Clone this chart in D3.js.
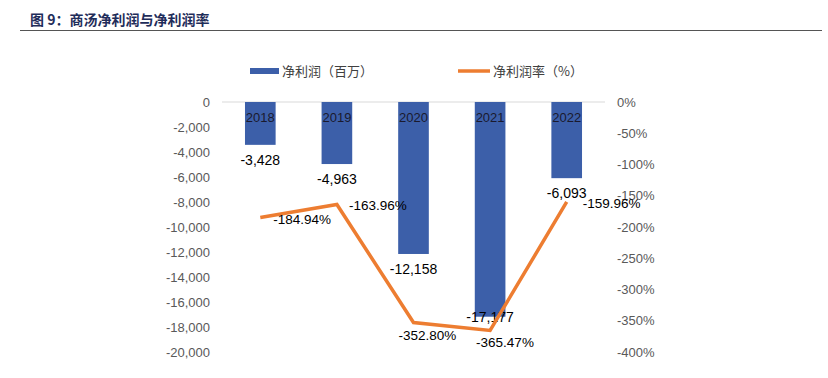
<!DOCTYPE html>
<html lang="zh">
<head>
<meta charset="UTF-8">
<title>商汤净利润与净利润率</title>
<script src="https://d3js.org/d3.v7.min.js"></script>
<style>
    body { margin: 0; background: #fff; font-family: "Liberation Sans", Arial, "Noto Sans CJK SC", sans-serif; }
    .tick text { fill: #595959; font-size: 13px; }
</style>
</head>
<body>
<div id="chart"></div>
<script>
// data
const years = ["2018", "2019", "2020", "2021", "2022"];
const netProfit = [-3428, -4963, -12158, -17177, -6093];
const netMargin = [-184.94, -163.96, -352.80, -365.47, -159.96];
const leftTicks = [0, -2000, -4000, -6000, -8000, -10000, -12000, -14000, -16000, -18000, -20000];
const rightTicks = [0, -50, -100, -150, -200, -250, -300, -350, -400];

const width = 828, height = 378;
const x0 = 222, x1 = 605, yTop = 102, yBot = 352;

const svg = d3.select("#chart").append("svg")
    .attr("width", width).attr("height", height);

// title
svg.append("text")
    .attr("x", 30).attr("y", 25)
    .attr("font-size", 14).attr("font-weight", "bold")
    .attr("fill", "#1f2d5a")
    .attr("font-family", "'Noto Sans CJK SC', sans-serif")
    .text("图 9：商汤净利润与净利润率");
svg.append("line")
    .attr("x1", 20).attr("x2", 822).attr("y1", 30.5).attr("y2", 30.5)
    .attr("stroke", "#555").attr("stroke-width", 1.2);

const x = d3.scaleBand().domain(years).range([x0, x1]).paddingInner(0.6).paddingOuter(0.3);
const yL = d3.scaleLinear().domain([0, -20000]).range([yTop, yBot]);
const yR = d3.scaleLinear().domain([0, -400]).range([yTop, yBot]);

// axes (plain hyphen instead of unicode minus)
const fmt = v => d3.format(",")(v).replace("−", "-");
const gl = svg.append("g").attr("transform", `translate(${x0 - 8},0)`)
    .call(d3.axisLeft(yL).tickValues(leftTicks).tickSize(0).tickPadding(4).tickFormat(fmt));
gl.select(".domain").remove();

const gr = svg.append("g").attr("transform", `translate(${x1 + 8},0)`)
    .call(d3.axisRight(yR).tickValues(rightTicks).tickSize(0).tickPadding(4).tickFormat(d => d + "%"));
gr.select(".domain").remove();

// zero line
svg.append("line")
    .attr("x1", x0).attr("x2", x1).attr("y1", yL(0)).attr("y2", yL(0))
    .attr("stroke", "#d9d9d9").attr("stroke-width", 1);

// bars
const barColor = "#3c5fa9";
svg.selectAll("rect.bar").data(years).enter().append("rect")
    .attr("class", "bar")
    .attr("x", d => x(d))
    .attr("width", x.bandwidth())
    .attr("y", yL(0))
    .attr("height", (d, i) => yL(netProfit[i]) - yL(0))
    .attr("fill", barColor);

// year labels inside bars
svg.selectAll("text.yr").data(years).enter().append("text")
    .attr("x", d => x(d) + x.bandwidth() / 2)
    .attr("y", yL(0) + 20)
    .attr("text-anchor", "middle")
    .attr("font-size", 13).attr("fill", "#1a1a2e")
    .text(d => d);

// bar value labels
const barLabelDy = [20, 20, 20, 5, 20];
svg.selectAll("text.bv").data(years).enter().append("text")
    .attr("x", d => x(d) + x.bandwidth() / 2)
    .attr("y", (d, i) => yL(netProfit[i]) + barLabelDy[i])
    .attr("text-anchor", "middle")
    .attr("font-size", 14).attr("fill", "#000")
    .text((d, i) => fmt(netProfit[i]));

// line
const lineColor = "#ed7d31";
const line = d3.line()
    .x((d, i) => x(years[i]) + x.bandwidth() / 2)
    .y(d => yR(d));
svg.append("path").datum(netMargin)
    .attr("d", line)
    .attr("fill", "none")
    .attr("stroke", lineColor)
    .attr("stroke-width", 3.5);

// line labels
const lineLabelDx = [13, 12, -15, -14, 16];
const lineLabelDy = [6, 6, 17, 17, 6];
svg.selectAll("text.lv").data(netMargin).enter().append("text")
    .attr("x", (d, i) => x(years[i]) + x.bandwidth() / 2 + lineLabelDx[i])
    .attr("y", (d, i) => yR(d) + lineLabelDy[i])
    .attr("font-size", 13.5).attr("fill", "#000")
    .text(d => d.toFixed(2) + "%");

// legend
const lg = svg.append("g").attr("font-family", "'Noto Sans CJK SC', sans-serif").attr("font-size", 13).attr("fill", "#404040");
lg.append("rect").attr("x", 250).attr("y", 68).attr("width", 29).attr("height", 6).attr("fill", barColor);
lg.append("text").attr("x", 282).attr("y", 76).text("净利润（百万）");
lg.append("line").attr("x1", 458).attr("x2", 490).attr("y1", 71).attr("y2", 71)
    .attr("stroke", lineColor).attr("stroke-width", 3.5);
lg.append("text").attr("x", 493).attr("y", 76).text("净利润率（%）");
</script>
</body>
</html>
